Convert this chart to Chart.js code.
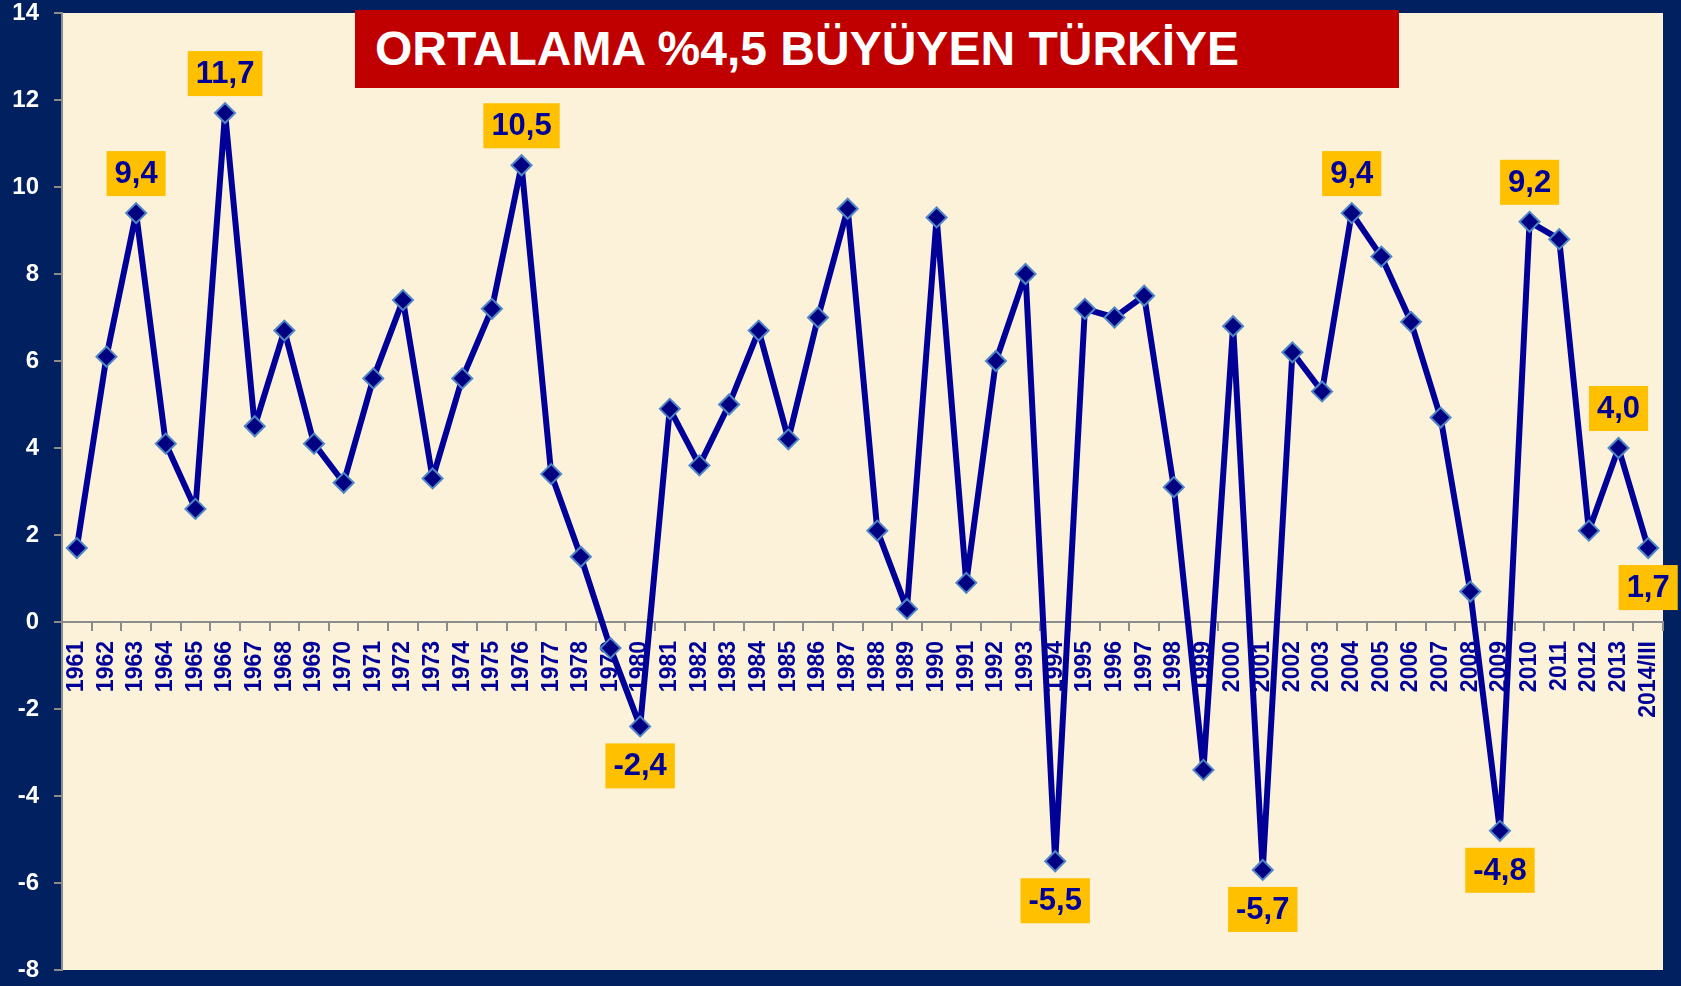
<!DOCTYPE html>
<html>
<head>
<meta charset="UTF-8">
<title>Ortalama %4,5 Büyüyen Türkiye</title>
<script src="https://cdn.jsdelivr.net/npm/chart.js@4.4.1/dist/chart.umd.min.js"></script>
<style>
    html, body { margin: 0; padding: 0; background: #002060; }
    #wrap { position: relative; width: 1681px; height: 986px; }
    #title {
        position: absolute; left: 355px; top: 10px; width: 1044px; height: 78px;
        box-sizing: border-box; padding-left: 20px;
        background: #C00000; color: #fff;
        font: bold 48px "Liberation Sans", Arial, sans-serif; line-height: 78px;
        white-space: nowrap;
    }
</style>
</head>
<body>
<div id="wrap">
    <canvas id="grafik" width="1681" height="986"></canvas>
    <div id="title">ORTALAMA %4,5 BÜYÜYEN TÜRKİYE</div>
</div>
<script>
    // yillar (x ekseni etiketleri)
    var years = ["1961", "1962", "1963", "1964", "1965", "1966", "1967", "1968", "1969", "1970",
        "1971", "1972", "1973", "1974", "1975", "1976", "1977", "1978", "1979", "1980",
        "1981", "1982", "1983", "1984", "1985", "1986", "1987", "1988", "1989", "1990",
        "1991", "1992", "1993", "1994", "1995", "1996", "1997", "1998", "1999", "2000",
        "2001", "2002", "2003", "2004", "2005", "2006", "2007", "2008", "2009", "2010",
        "2011", "2012", "2013", "2014/III"];

    // buyume orani (%)
    var growth = [1.7, 6.1, 9.4, 4.1, 2.6, 11.7, 4.5, 6.7, 4.1, 3.2,
        5.6, 7.4, 3.3, 5.6, 7.2, 10.5, 3.4, 1.5, -0.6, -2.4,
        4.9, 3.6, 5.0, 6.7, 4.2, 7.0, 9.5, 2.1, 0.3, 9.3,
        0.9, 6.0, 8.0, -5.5, 7.2, 7.0, 7.5, 3.1, -3.4, 6.8,
        -5.7, 6.2, 5.3, 9.4, 8.4, 6.9, 4.7, 0.7, -4.8, 9.2,
        8.8, 2.1, 4.0, 1.7];

    // etiket kutusu olan yillar
    var labelledYears = ["1963", "1966", "1976", "1980", "1994", "2001", "2004", "2009", "2010", "2013", "2014/III"];

    var yTicks = [-8, -6, -4, -2, 0, 2, 4, 6, 8, 10, 12, 14];

    var FONT = '"Liberation Sans", Arial, sans-serif';
    Chart.defaults.font.family = FONT;

    var backgroundPlugin = {
        id: 'arkaplan',
        beforeDraw: function (chart) {
            var ctx = chart.ctx, a = chart.chartArea;
            ctx.save();
            ctx.fillStyle = '#002060';
            ctx.fillRect(0, 0, chart.width, chart.height);
            ctx.fillStyle = '#FCF1D9';
            ctx.fillRect(a.left, a.top, a.right - a.left, a.bottom - a.top);
            ctx.restore();
        }
    };

    var valueBoxPlugin = {
        id: 'degerKutulari',
        afterDatasetsDraw: function (chart) {
            var meta = chart.getDatasetMeta(0);
            var ctx = chart.ctx;
            ctx.save();
            ctx.font = 'bold 31px ' + FONT;
            ctx.textAlign = 'center';
            ctx.textBaseline = 'middle';
            labelledYears.forEach(function (yr) {
                var i = years.indexOf(yr);
                var v = growth[i];
                var pt = meta.data[i];
                var below = i > 0 && v < growth[i - 1];
                var text = v.toFixed(1).replace('.', ',');
                var w = ctx.measureText(text).width + 16;
                var h = 45;
                var cy = below ? pt.y + 17 + h / 2 : pt.y - 17 - h / 2;
                ctx.fillStyle = '#FFC000';
                ctx.fillRect(pt.x - w / 2, cy - h / 2, w, h);
                ctx.fillStyle = '#000099';
                ctx.fillText(text, pt.x, cy + 1);
            });
            ctx.restore();
        }
    };

    var ctx = document.getElementById('grafik');
    var myChart = new Chart(ctx, {
        type: 'line',
        data: {
            labels: years,
            datasets: [{
                data: growth,
                borderColor: '#000099',
                borderWidth: 6,
                borderJoinStyle: 'round',
                tension: 0,
                fill: false,
                pointStyle: 'rectRot',
                pointRadius: 10,
                pointBackgroundColor: '#000080',
                pointBorderColor: '#4F86C6',
                pointBorderWidth: 2
            }]
        },
        options: {
            responsive: false,
            maintainAspectRatio: false,
            animation: false,
            layout: { padding: { top: 13, right: 18, bottom: 16, left: 0 } },
            plugins: {
                legend: { display: false },
                tooltip: { enabled: false },
                title: { display: false }
            },
            scales: {
                x: {
                    type: 'category',
                    position: { y: 0 },
                    offset: true,
                    afterFit: function (scale) {
                        scale.paddingLeft = 0; scale.paddingRight = 0;
                        scale.paddingTop = 0; scale.paddingBottom = 0;
                    },
                    grid: {
                        drawOnChartArea: false, drawTicks: true, tickLength: 8,
                        color: '#8c8c8c', lineWidth: 2, offset: true
                    },
                    border: { display: true, color: '#8c8c8c', width: 2 },
                    ticks: {
                        autoSkip: false, minRotation: 90, maxRotation: 90, padding: 11,
                        color: '#000099',
                        font: { size: 23, weight: 'bold' }
                    }
                },
                y: {
                    min: yTicks[0],
                    max: yTicks[yTicks.length - 1],
                    afterBuildTicks: function (scale) {
                        scale.ticks = yTicks.map(function (v) { return { value: v }; });
                    },
                    afterFit: function (scale) {
                        scale.width = 62;
                        scale.paddingTop = 0; scale.paddingBottom = 0;
                    },
                    grid: {
                        drawOnChartArea: false, drawTicks: true, tickLength: 8,
                        color: '#8c8c8c', lineWidth: 2
                    },
                    border: { display: true, color: '#8c8c8c', width: 2 },
                    ticks: {
                        color: '#ffffff', padding: 15,
                        font: { size: 24, weight: 'bold', lineHeight: 1 }
                    }
                }
            }
        },
        plugins: [backgroundPlugin, valueBoxPlugin]
    });
</script>
</body>
</html>
